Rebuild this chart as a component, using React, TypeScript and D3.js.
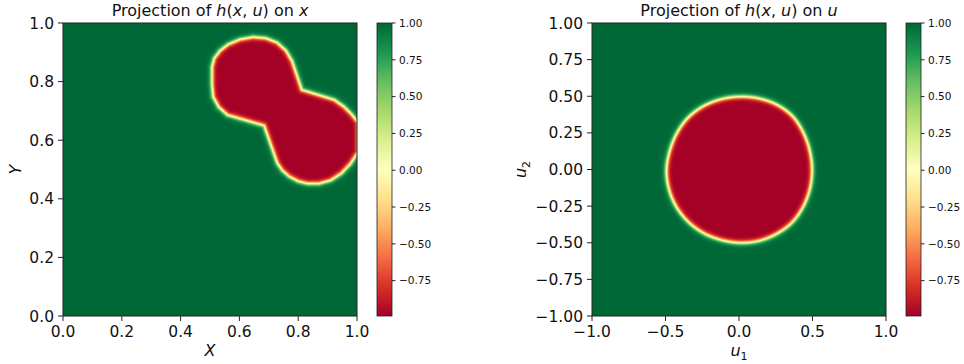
import React, { useMemo } from 'react';
import * as d3 from 'd3';

// colour range of h(x, u)
const valueMin = -0.99;
const valueMax = 1.0;

// tick values
const xTicks = [0, 0.2, 0.4, 0.6, 0.8, 1.0];
const yTicks = [0, 0.2, 0.4, 0.6, 0.8, 1.0];
const u1Ticks = [-1, -0.5, 0, 0.5, 1];
const u2Ticks = [-1, -0.75, -0.5, -0.25, 0, 0.25, 0.5, 0.75, 1];
const cbarTicks = [-0.75, -0.5, -0.25, 0, 0.25, 0.5, 0.75, 1.0];

// zero level set of h projected on x (clockwise)
const xRegion: [number, number][] = [
  [0.684, 0.650], [0.560, 0.686], [0.530, 0.713], [0.511, 0.748], [0.507, 0.790],
  [0.507, 0.850], [0.515, 0.880], [0.535, 0.906], [0.562, 0.927], [0.602, 0.944],
  [0.647, 0.952], [0.690, 0.948], [0.728, 0.933], [0.758, 0.906], [0.779, 0.870],
  [0.812, 0.772], [0.922, 0.738], [0.955, 0.715], [0.982, 0.688], [1.004, 0.660],
  [1.004, 0.560], [0.978, 0.520], [0.947, 0.487], [0.910, 0.463], [0.870, 0.452],
  [0.832, 0.452], [0.800, 0.460], [0.770, 0.476], [0.746, 0.497], [0.729, 0.522],
];

// zero level set of h projected on u
const uRegion: [number, number][] = [
  [0.497, 0.0], [0.481, 0.129], [0.437, 0.253], [0.364, 0.364], [0.256, 0.443],
  [0.130, 0.486], [0.0, 0.497], [-0.128, 0.478], [-0.248, 0.429], [-0.350, 0.350],
  [-0.424, 0.245], [-0.471, 0.126], [-0.493, 0.0], [-0.478, -0.128], [-0.430, -0.248],
  [-0.351, -0.351], [-0.248, -0.430], [-0.128, -0.479], [0.0, -0.500], [0.131, -0.488],
  [0.254, -0.440], [0.361, -0.361], [0.437, -0.253], [0.483, -0.129],
];

const FONT = 'DejaVu Sans, sans-serif';
const EDGE = 2.7; // px, width of the tanh transition

const brewer = d3.schemeRdYlGn[11] as string[];
const cmap = d3
  .scaleLinear<string>()
  .domain(d3.range(11).map((i) => i / 10))
  .range(brewer)
  .interpolate(d3.interpolateRgb)
  .clamp(true);
const norm = d3.scaleLinear().domain([valueMin, valueMax]).range([0, 1]).clamp(true);
const lut = d3.range(512).map((i) => d3.rgb(cmap(i / 511)));

function segDist(px: number, py: number, ax: number, ay: number, bx: number, by: number) {
  const dx = bx - ax, dy = by - ay;
  const len = dx * dx + dy * dy;
  let t = len ? ((px - ax) * dx + (py - ay) * dy) / len : 0;
  t = Math.max(0, Math.min(1, t));
  const qx = ax + t * dx - px, qy = ay + t * dy - py;
  return Math.sqrt(qx * qx + qy * qy);
}

// run the region through a d3 curve and collect the outline in pixels
function outline(region: [number, number][], xs: any, ys: any, curve: any) {
  const pts: [number, number][] = [];
  let cx = 0, cy = 0;
  const ctx: any = {
    moveTo(x: number, y: number) { pts.push([x, y]); cx = x; cy = y; },
    lineTo(x: number, y: number) { pts.push([x, y]); cx = x; cy = y; },
    bezierCurveTo(x1: number, y1: number, x2: number, y2: number, x: number, y: number) {
      for (let k = 1; k <= 8; k++) {
        const t = k / 8, m = 1 - t;
        pts.push([
          m * m * m * cx + 3 * m * m * t * x1 + 3 * m * t * t * x2 + t * t * t * x,
          m * m * m * cy + 3 * m * m * t * y1 + 3 * m * t * t * y2 + t * t * t * y,
        ]);
      }
      cx = x; cy = y;
    },
    closePath() {},
  };
  d3.line<[number, number]>()
    .x((d) => xs(d[0]))
    .y((d) => ys(d[1]))
    .curve(curve)
    .context(ctx)(region);
  return pts;
}

function fieldImage(region: [number, number][], xs: any, ys: any, curve: any) {
  const [x0, x1] = xs.range();
  const [y1, y0] = ys.range();
  const W = Math.round(x1 - x0), H = Math.round(y1 - y0);
  const pts = outline(region, xs, ys, curve);
  const canvas = document.createElement('canvas');
  canvas.width = W;
  canvas.height = H;
  const ctx = canvas.getContext('2d')!;
  const img = ctx.createImageData(W, H);
  for (let j = 0; j < H; j++) {
    for (let i = 0; i < W; i++) {
      const px = x0 + i + 0.5, py = y0 + j + 0.5;
      let d = Infinity;
      for (let k = 0; k < pts.length; k++) {
        const a = pts[k], b = pts[(k + 1) % pts.length];
        d = Math.min(d, segDist(px, py, a[0], a[1], b[0], b[1]));
      }
      const s = d3.polygonContains(pts, [px, py]) ? -d : d;
      const v = Math.tanh(s / EDGE);
      const c = lut[Math.round(norm(v) * 511)];
      const o = (j * W + i) * 4;
      img.data[o] = c.r;
      img.data[o + 1] = c.g;
      img.data[o + 2] = c.b;
      img.data[o + 3] = 255;
    }
  }
  ctx.putImageData(img, 0, 0);
  return canvas.toDataURL();
}

type PanelProps = {
  id: string;
  left: number;
  cbarLeft: number;
  xDomain: [number, number];
  yDomain: [number, number];
  xt: number[];
  yt: number[];
  xFmt: string;
  yFmt: string;
  region: [number, number][];
  curve: any;
  titleVar: string;
  xLabel: React.ReactNode;
  yLabel: React.ReactNode;
  yLabelX: number;
};

const TOP = 23, BOTTOM = 316, SIZE = 294, CBW = 15;

function Panel(p: PanelProps) {
  const xs = d3.scaleLinear().domain(p.xDomain).range([p.left, p.left + SIZE]);
  const ys = d3.scaleLinear().domain(p.yDomain).range([BOTTOM, TOP]);
  const cs = d3.scaleLinear().domain([valueMin, valueMax]).range([BOTTOM, TOP]);
  const href = useMemo(() => fieldImage(p.region, xs, ys, p.curve), [p.region]);
  const fx = d3.format(p.xFmt), fy = d3.format(p.yFmt), fc = d3.format('.2f');
  const cx = p.left + SIZE / 2;
  return (
    <g fontFamily={FONT}>
      <defs>
        <linearGradient id={`cb-${p.id}`} x1="0" y1="1" x2="0" y2="0">
          {brewer.map((c, i) => (
            <stop key={i} offset={i / 10} stopColor={c} />
          ))}
        </linearGradient>
      </defs>
      <image href={href} x={p.left} y={TOP} width={SIZE} height={BOTTOM - TOP} preserveAspectRatio="none" />
      <rect x={p.left} y={TOP} width={SIZE} height={BOTTOM - TOP} fill="none" stroke="#222" strokeWidth={1} />
      {p.xt.map((t) => (
        <g key={t} transform={`translate(${xs(t)},${BOTTOM})`}>
          <line y2={5} stroke="#222" />
          <text y={21} textAnchor="middle" fontSize={15.5} fill="#111">{fx(t)}</text>
        </g>
      ))}
      {p.yt.map((t) => (
        <g key={t} transform={`translate(${p.left},${ys(t)})`}>
          <line x2={-5} stroke="#222" />
          <text x={-9} dy="0.36em" textAnchor="end" fontSize={15.5} fill="#111">{fy(t)}</text>
        </g>
      ))}
      <text x={cx} y={16} textAnchor="middle" fontSize={16} fill="#111">
        Projection of <tspan fontStyle="italic">h</tspan>(<tspan fontStyle="italic">x</tspan>,{' '}
        <tspan fontStyle="italic">u</tspan>) on <tspan fontStyle="italic">{p.titleVar}</tspan>
      </text>
      <text x={cx} y={356} textAnchor="middle" fontSize={16} fill="#111">{p.xLabel}</text>
      <text transform={`translate(${p.yLabelX},${(TOP + BOTTOM) / 2}) rotate(-90)`} textAnchor="middle" fontSize={16} fill="#111">
        {p.yLabel}
      </text>
      <rect x={p.cbarLeft} y={TOP} width={CBW} height={BOTTOM - TOP} fill={`url(#cb-${p.id})`} stroke="#222" strokeWidth={0.8} />
      {cbarTicks.map((t) => (
        <g key={t} transform={`translate(${p.cbarLeft + CBW},${cs(t)})`}>
          <line x2={3.5} stroke="#222" />
          <text x={7} dy="0.36em" fontSize={10.5} fill="#111">{fc(t)}</text>
        </g>
      ))}
    </g>
  );
}

export default function App() {
  return (
    <svg width={964} height={364} style={{ position: 'absolute', left: 0, top: 0, background: '#fff' }}>
      <Panel
        id="x"
        left={63}
        cbarLeft={377}
        xDomain={[0, 1]}
        yDomain={[0, 1]}
        xt={xTicks}
        yt={yTicks}
        xFmt=".1f"
        yFmt=".1f"
        region={xRegion}
        curve={d3.curveLinearClosed}
        titleVar="x"
        xLabel={<tspan fontStyle="italic">X</tspan>}
        yLabel={<tspan fontStyle="italic">Y</tspan>}
        yLabelX={21}
      />
      <Panel
        id="u"
        left={592}
        cbarLeft={906}
        xDomain={[-1, 1]}
        yDomain={[-1, 1]}
        xt={u1Ticks}
        yt={u2Ticks}
        xFmt=".1f"
        yFmt=".2f"
        region={uRegion}
        curve={d3.curveCatmullRomClosed.alpha(0.5)}
        titleVar="u"
        xLabel={<><tspan fontStyle="italic">u</tspan><tspan fontSize={11} dy={4}>1</tspan></>}
        yLabel={<><tspan fontStyle="italic">u</tspan><tspan fontSize={11} dy={4}>2</tspan></>}
        yLabelX={526}
      />
    </svg>
  );
}
